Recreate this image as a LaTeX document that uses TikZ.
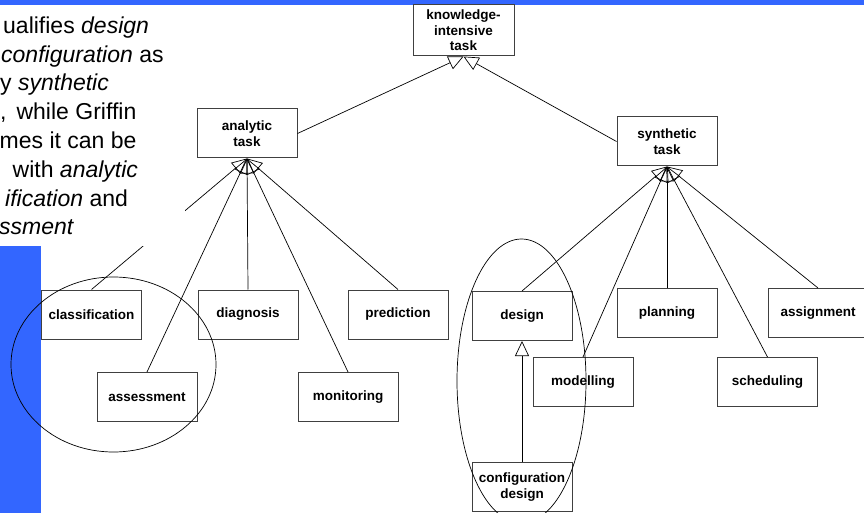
\documentclass[tikz,border=0pt]{standalone}
\usepackage{fontspec}
\setmainfont{Liberation Sans}
\usetikzlibrary{arrows.meta}
\definecolor{slideblue}{RGB}{51,102,255}

\begin{document}
\begin{tikzpicture}[x=1pt,y=-1pt,every node/.style={inner sep=0pt},
	taskbox/.style={draw=black!75,line width=1pt,fill=white,minimum width=100pt,minimum height=49pt,align=center,font=\fontsize{13.5}{15.5}\selectfont\bfseries},
	isa/.style={draw,line width=0.7pt,-{Triangle[open,length=15pt,width=14pt]}},
	bodytext/.style={anchor=base west,font=\fontsize{23}{28.8}\selectfont}]
	
	\useasboundingbox (0,0) rectangle (864,513);
	\fill[slideblue] (0,0) rectangle (864,5);
	\fill[slideblue] (0,246) rectangle (41,513);
	
	% task boxes
	\node[taskbox,minimum width=101pt,minimum height=51pt] (kit) at (463.5,30.5) {knowledge-\\intensive\\task};
	\node[taskbox] (analytic) at (247,133.5) {analytic\\task};
	\node[taskbox] (synthetic) at (667,141.5) {synthetic\\task};
	\node[taskbox] (classif) at (91.5,314.5) {classification};
	\node[taskbox] (diagnosis) at (248,314.5) {diagnosis};
	\node[taskbox] (prediction) at (398,314.5) {prediction};
	\node[taskbox] (assess) at (147,397) {assessment};
	\node[taskbox] (monitor) at (348,397) {monitoring};
	\node[taskbox] (design) at (522,316) {design};
	\node[taskbox] (planning) at (667,313) {planning};
	\node[taskbox] (assign) at (818,313) {assignment};
	\node[taskbox] (modelling) at (583,382) {modelling};
	\node[taskbox] (scheduling) at (767.5,382) {scheduling};
	\node[taskbox] (configdesign) at (522,487) {configuration\\design};
	
	% generalisation links
	\draw[isa] (analytic.east) -- (kit.south);
	\draw[isa] (synthetic.west) -- (kit.south);
	\foreach \sub in {classif,assess,diagnosis,monitor,prediction}
		\draw[isa] (\sub.north) -- (analytic.south);
	\foreach \sub in {design,modelling,planning,scheduling,assign}
		\draw[isa] (\sub.north) -- (synthetic.south);
	\draw[isa] (configdesign.north) -- (design.south);
	
	% groupings
	\draw[line width=0.7pt] (113.5,364.5) ellipse [x radius=102.5,y radius=87.5];
	\draw[line width=0.7pt] (521.5,381) ellipse [x radius=64.5,y radius=142];
	
	% text panel
	\fill[white] (0,5) rectangle (185,246);
	\node[bodytext] (line1) at (3,33.3) {ualifies \textit{design}};
	\node[bodytext] (line2) at (1,62.1) {\textit{configuration} as};
	\node[bodytext] (line3) at (0,90.9) {y \textit{synthetic}};
	\node[bodytext] (line4) at (0,119.7) {,\hspace{10pt}while Griffin};
	\node[bodytext] (line5) at (-0.5,148.5) {mes it can be};
	\node[bodytext] (line6) at (12.5,177.3) {with \textit{analytic}};
	\node[bodytext] (line7) at (5,206.1) {\textit{ification} and};
	\node[bodytext] (line8) at (-1,234.9) {\textit{ssment}};
\end{tikzpicture}
\end{document}
